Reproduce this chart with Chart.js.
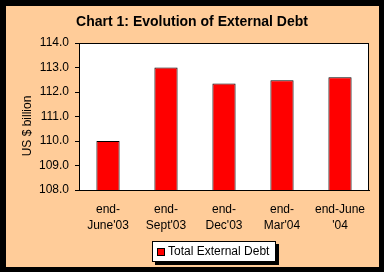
<!DOCTYPE html>
<html>
<head>
<meta charset="utf-8">
<script src="https://cdn.jsdelivr.net/npm/chart.js@4/dist/chart.umd.min.js"></script>
<style>
  html, body { margin: 0; padding: 0; background: #000; }
  #wrap { width: 384px; height: 272px; }
</style>
</head>
<body>
<div id="wrap"><canvas id="debtChart" width="384" height="272"></canvas></div>
<script>
// Chart 1: Evolution of External Debt (US $ billion)
const periods = [["end-", "June'03"], ["end-", "Sept'03"], ["end-", "Dec'03"], ["end-", "Mar'04"], ["end-June", "'04"]];
const totalDebt = [110.0, 113.0, 112.35, 112.48, 112.6];
const yMin = 108.0;
const yMax = 114.0;
const yStep = 1.0;

const FONT = "Arial, 'Liberation Sans', sans-serif";
const PEACH = "#FFCC99";

// frame, peach panel, white plot area and its border
const backdrop = {
    id: "backdrop",
    beforeDraw(chart) {
        const ctx = chart.ctx;
        const a = chart.chartArea;
        ctx.save();
        ctx.fillStyle = "#000";
        ctx.fillRect(0, 0, chart.width, chart.height);
        ctx.fillStyle = PEACH;
        ctx.fillRect(6, 6, 373, 261);
        ctx.fillStyle = "#fff";
        ctx.fillRect(a.left, a.top, a.right - a.left, a.bottom - a.top);
        ctx.restore();
    },
    afterDatasetsDraw(chart) {
        const ctx = chart.ctx;
        const a = chart.chartArea;
        ctx.save();
        ctx.strokeStyle = "#000";
        ctx.lineWidth = 1;
        ctx.strokeRect(a.left + 0.5, a.top + 0.5, a.right - a.left - 1, a.bottom - a.top);
        ctx.restore();
    }
};

// title, y axis caption and boxed legend
const captions = {
    id: "captions",
    afterDraw(chart) {
        const ctx = chart.ctx;
        ctx.save();
        ctx.fillStyle = "#000";
        ctx.textBaseline = "middle";

        ctx.font = "bold 14px " + FONT;
        ctx.textAlign = "center";
        ctx.fillText("Chart 1: Evolution of External Debt", 192, 22);

        ctx.font = "12px " + FONT;
        ctx.translate(28, 126);
        ctx.rotate(-Math.PI / 2);
        ctx.fillText("US $ billion", 0, 0);
        ctx.setTransform(1, 0, 0, 1, 0, 0);

        const ds = chart.data.datasets[0];
        const x = 152, y = 241, w = 124, h = 21;
        ctx.fillStyle = "#000";
        ctx.fillRect(x + 3, y + 3, w, h);
        ctx.fillStyle = "#fff";
        ctx.fillRect(x, y, w, h);
        ctx.strokeStyle = "#000";
        ctx.lineWidth = 1;
        ctx.strokeRect(x + 0.5, y + 0.5, w - 1, h - 1);
        ctx.fillStyle = ds.backgroundColor;
        ctx.fillRect(x + 5, y + 7, 8, 8);
        ctx.strokeRect(x + 5.5, y + 7.5, 7, 7);
        ctx.fillStyle = "#000";
        ctx.textAlign = "left";
        ctx.fillText(ds.label, x + 16, y + 11);
        ctx.restore();
    }
};

new Chart(document.getElementById("debtChart"), {
    type: "bar",
    data: {
        labels: periods,
        datasets: [{
            label: "Total External Debt",
            data: totalDebt,
            backgroundColor: "#FF0000",
            borderColor: "#000",
            borderWidth: 1,
            borderSkipped: "bottom",
            barPercentage: 0.4,
            categoryPercentage: 1.0
        }]
    },
    options: {
        responsive: false,
        animation: false,
        events: [],
        layout: { padding: { top: 43, right: 15, bottom: 22, left: 39 } },
        plugins: {
            legend: { display: false },
            title: { display: false },
            tooltip: { enabled: false }
        },
        scales: {
            x: {
                grid: { display: false },
                border: { display: true, color: "#000" },
                ticks: {
                    color: "#000",
                    font: { family: FONT, size: 12, lineHeight: 1.3 },
                    padding: 4,
                    maxRotation: 0,
                    autoSkip: false
                },
                afterFit(scale) { scale.height = 60; }
            },
            y: {
                min: yMin,
                max: yMax,
                grid: { drawOnChartArea: false, drawTicks: true, tickLength: 4, color: "#000" },
                border: { display: true, color: "#000" },
                ticks: {
                    stepSize: yStep,
                    color: "#000",
                    font: { family: FONT, size: 12 },
                    padding: 6,
                    callback: v => v.toFixed(1)
                },
                afterFit(scale) { scale.width = 40; }
            }
        }
    },
    plugins: [backdrop, captions]
});
</script>
</body>
</html>
